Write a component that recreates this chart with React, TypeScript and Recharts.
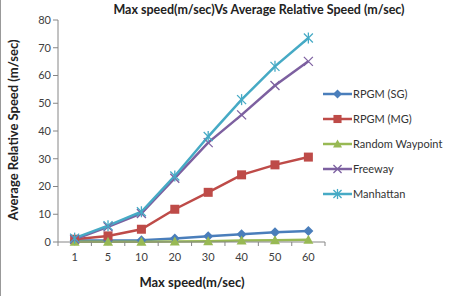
import { Line, LineChart, XAxis, YAxis } from "recharts";

const speeds = ["1", "5", "10", "20", "30", "40", "50", "60"];
const rpgmSg = [0.5, 0.5, 0.6, 1.3, 2.1, 2.8, 3.5, 4];
const rpgmMg = [1, 2.2, 4.6, 11.8, 17.9, 24.2, 27.8, 30.6];
const randomWaypoint = [0.1, 0.1, 0.1, 0.2, 0.3, 0.5, 0.6, 0.8];
const freeway = [1, 5.5, 10.3, 23, 35.8, 45.8, 56.4, 65.1];
const manhattan = [1.4, 5.9, 10.9, 23.8, 38, 51.3, 63.3, 73.5];
const yTicks = [0, 10, 20, 30, 40, 50, 60, 70, 80];

const data = speeds.map((s, i) => ({
    speed: s,
    sg: rpgmSg[i],
    mg: rpgmMg[i],
    rw: randomWaypoint[i],
    fw: freeway[i],
    mh: manhattan[i],
}));

const FONT = "Lato, 'Open Sans', sans-serif";
const BAND = 266 / speeds.length;

type Shape = "diamond" | "square" | "triangle" | "x" | "star";

const series: { key: string; name: string; color: string; shape: Shape }[] = [
    { key: "sg", name: "RPGM (SG)", color: "#4a7ebb", shape: "diamond" },
    { key: "mg", name: "RPGM (MG)", color: "#be4b48", shape: "square" },
    { key: "rw", name: "Random Waypoint", color: "#98b954", shape: "triangle" },
    { key: "fw", name: "Freeway", color: "#7d60a0", shape: "x" },
    { key: "mh", name: "Manhattan", color: "#46aac5", shape: "star" },
];

function Marker({ cx, cy, shape, color, s = 1 }: { cx: number; cy: number; shape: Shape; color: string; s?: number }) {
    if (cx == null || cy == null) return null;
    if (shape === "diamond") {
        const r = 5 * s;
        return <polygon points={`${cx},${cy - r} ${cx + r},${cy} ${cx},${cy + r} ${cx - r},${cy}`} fill={color} />;
    }
    if (shape === "square") {
        const r = 4.5 * s;
        return <rect x={cx - r} y={cy - r} width={2 * r} height={2 * r} fill={color} />;
    }
    if (shape === "triangle") {
        const r = 5 * s;
        return <polygon points={`${cx},${cy - r} ${cx + r},${cy + r * 0.8} ${cx - r},${cy + r * 0.8}`} fill={color} />;
    }
    const r = 4.5 * s;
    return (
        <g stroke={color} strokeWidth={1.3}>
            <line x1={cx - r} y1={cy - r} x2={cx + r} y2={cy + r} />
            <line x1={cx - r} y1={cy + r} x2={cx + r} y2={cy - r} />
            {shape === "star" && <line x1={cx} y1={cy - r - 1} x2={cx} y2={cy + r + 1} />}
        </g>
    );
}

function XTick(props: any) {
    const { x, y, payload } = props;
    const half = BAND / 2;
    return (
        <g>
            <line x1={x - half} y1={y - 8} x2={x - half} y2={y - 4} stroke="#868686" />
            {payload.index === speeds.length - 1 && (
                <line x1={x + half} y1={y - 8} x2={x + half} y2={y - 4} stroke="#868686" />
            )}
            <text x={x} y={y + 11} textAnchor="middle" fontSize={11} fill="#404040" fontFamily={FONT}>
                {payload.value}
            </text>
        </g>
    );
}

function LegendBox() {
    return (
        <div style={{ position: "absolute", left: 322, top: 81, fontFamily: FONT, fontSize: 11, color: "#333" }}>
            {series.map((s) => (
                <div key={s.key} style={{ display: "flex", alignItems: "center", height: 25 }}>
                    <svg width={29} height={12}>
                        <line x1={0} y1={6} x2={29} y2={6} stroke={s.color} strokeWidth={2.5} />
                        <Marker cx={14.5} cy={6} shape={s.shape} color={s.color} s={0.9} />
                    </svg>
                    <span style={{ marginLeft: 1 }}>{s.name}</span>
                </div>
            ))}
        </div>
    );
}

export default function App() {
    return (
        <div style={{ position: "absolute", left: 0, top: 0, width: 449, height: 296, background: "#fff", borderLeft: "1px solid #999", boxSizing: "border-box" }}>
            <LineChart width={448} height={296} data={data} margin={{ top: 20, right: 124, left: 0, bottom: 24 }}>
                <text x={258} y={14} textAnchor="middle" fontSize={12.5} fontWeight="bold" fill="#222" fontFamily={FONT}>
                    Max speed(m/sec)Vs Average Relative Speed (m/sec)
                </text>
                <text x={14} y={130} transform="rotate(-90 14 130)" textAnchor="middle" dominantBaseline="middle" fontSize={13} fontWeight="bold" fill="#222" fontFamily={FONT}>
                    Average Relative Speed (m/sec)
                </text>
                <text x={191} y={287} textAnchor="middle" fontSize={13} fontWeight="bold" fill="#222" fontFamily={FONT}>
                    Max speed(m/sec)
                </text>
                <XAxis
                    dataKey="speed"
                    height={30}
                    padding={{ left: BAND / 2, right: BAND / 2 }}
                    axisLine={{ stroke: "#868686" }}
                    tickLine={false}
                    tick={<XTick />}
                    interval={0}
                />
                <YAxis
                    width={57}
                    domain={[0, 80]}
                    ticks={yTicks}
                    interval={0}
                    axisLine={{ stroke: "#868686" }}
                    tickLine={{ stroke: "#868686" }}
                    tickSize={5}
                    tick={{ fontSize: 11, fill: "#404040", fontFamily: FONT }}
                />
                {series.map((s) => (
                    <Line
                        key={s.key}
                        dataKey={s.key}
                        name={s.name}
                        stroke={s.color}
                        strokeWidth={2.5}
                        isAnimationActive={false}
                        dot={(p: any) => <Marker key={`${s.key}-${p.index}`} cx={p.cx} cy={p.cy} shape={s.shape} color={s.color} />}
                        activeDot={false}
                    />
                ))}
            </LineChart>
            <LegendBox />
        </div>
    );
}
